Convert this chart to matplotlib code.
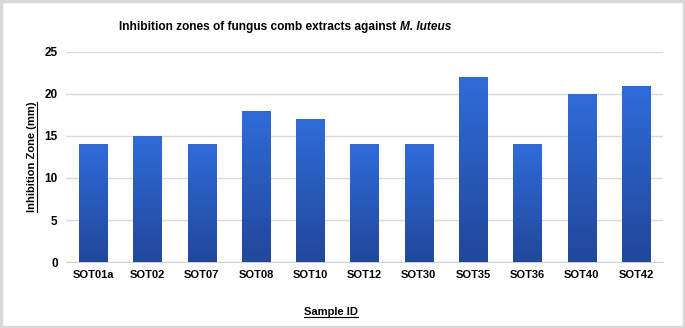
import matplotlib.pyplot as plt
import numpy as np
from matplotlib.colors import LinearSegmentedColormap
from matplotlib.lines import Line2D
from matplotlib.patches import Rectangle

samples = ["SOT01a", "SOT02", "SOT07", "SOT08", "SOT10", "SOT12",
           "SOT30", "SOT35", "SOT36", "SOT40", "SOT42"]
zones = [14, 15, 14, 18, 17, 14, 14, 22, 14, 20, 21]
yticks = [0, 5, 10, 15, 20, 25]

plt.rcParams['font.family'] = ['Liberation Sans', 'DejaVu Sans']

fig = plt.figure(figsize=(6.85, 3.28), dpi=100)
ax = fig.add_axes([0.0964, 0.2012, 0.8716, 0.6403])

x = np.arange(len(samples))
bars = ax.bar(x, zones, width=0.52, color="none", edgecolor="none", zorder=3)

# vertical gradient inside each bar
cmap = LinearSegmentedColormap.from_list("g", ["#21479a", "#2f6cd9"])
grad = np.linspace(0, 1, 256).reshape(-1, 1)
for b in bars:
    bx, bw, bh = b.get_x(), b.get_width(), b.get_height()
    im = ax.imshow(grad, cmap=cmap, origin="lower", aspect="auto",
                   extent=[bx, bx + bw, 0, bh], zorder=3)
    im.set_clip_path(b)

ax.set_xlim(-0.5, len(samples) - 0.5)
ax.set_ylim(0, 25)
ax.set_yticks(yticks)
ax.set_xticks(x)
ax.set_xticklabels(samples, fontsize=8, fontweight="bold")
for t in ax.get_yticklabels():
    t.set_fontsize(8.5)
    t.set_fontweight("bold")
ax.tick_params(length=0, pad=6)
ax.grid(axis="y", color="#d9d9d9", linewidth=1, zorder=0)
for s in ["top", "right", "left"]:
    ax.spines[s].set_visible(False)
ax.spines["bottom"].set_color("#d0d0d0")
ax.set_axisbelow(True)

# title: normal part + italic species name, centred as one line
t1 = fig.text(0, 0.918, "Inhibition zones of fungus comb extracts against ",
              fontsize=8.6, fontweight="bold", ha="left", va="center")
t2 = fig.text(0, 0.918, "M. luteus", fontsize=8.6, fontweight="bold",
              style="italic", ha="left", va="center")

ylab = fig.text(0.047, 0.521, "Inhibition Zone (mm)", rotation=90, fontsize=8,
                fontweight="bold", ha="center", va="center")
xlab = fig.text(0.483, 0.048, "Sample ID", fontsize=8, fontweight="bold",
                ha="center", va="center")

fig.canvas.draw()
inv = fig.transFigure.inverted()
w1 = inv.transform_bbox(t1.get_window_extent()).width
w2 = inv.transform_bbox(t2.get_window_extent()).width
start = 285 / 685 - (w1 + w2) / 2
t1.set_x(start)
t2.set_x(start + w1)

# underline the axis labels
bb = inv.transform_bbox(xlab.get_window_extent())
fig.add_artist(Line2D([bb.x0, bb.x1], [bb.y0 + 0.002, bb.y0 + 0.002],
                      color="black", linewidth=0.8, transform=fig.transFigure))
bb = inv.transform_bbox(ylab.get_window_extent())
fig.add_artist(Line2D([bb.x1 - 0.001, bb.x1 - 0.001], [bb.y0, bb.y1],
                      color="black", linewidth=0.8, transform=fig.transFigure))

# light grey frame around the whole figure
fig.add_artist(Rectangle((0.002, 0.003), 0.996, 0.994, transform=fig.transFigure,
                         fill=False, edgecolor="#d9d9d9", linewidth=2.5))

fig.savefig("out.png", dpi=100)
